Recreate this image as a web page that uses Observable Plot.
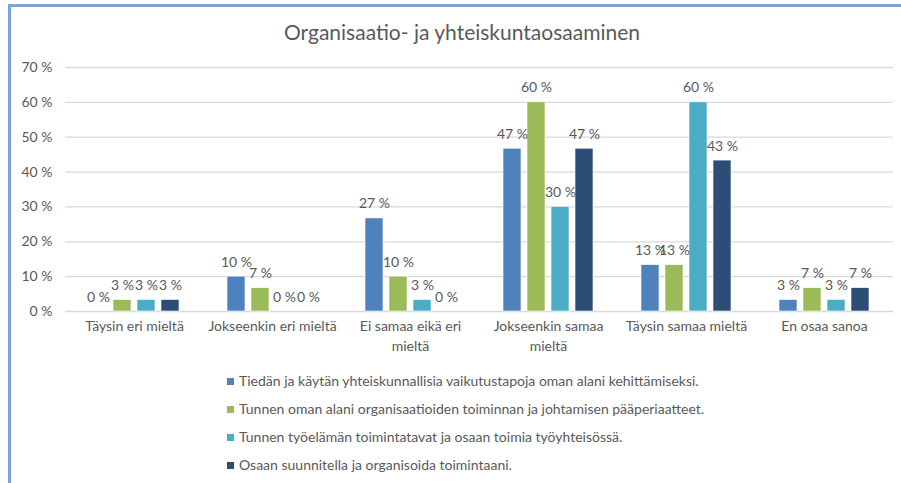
<!DOCTYPE html>
<html>
<head>
<meta charset="utf-8">
<script src="https://cdn.jsdelivr.net/npm/d3@7"></script>
<script src="https://cdn.jsdelivr.net/npm/@observablehq/plot@0.6"></script>
<style>
  html, body { margin: 0; padding: 0; background: #fff; }
  #wrap { position: relative; width: 901px; height: 483px; overflow: hidden; font-family: Lato, "Open Sans", sans-serif; color: #595959; }
  #frame { position: absolute; left: 8px; top: 4px; right: -10px; bottom: -10px; border-left: 3px solid #7ea4d6; border-top: 3px solid #7ea4d6; box-sizing: border-box; }
  #title { position: absolute; left: 0; width: 924px; top: 19px; text-align: center; font-size: 21px; color: #595959; }
  #chart { position: absolute; left: 0; top: 50px; }
  #legend { position: absolute; left: 227px; top: 372px; font-size: 14px; }
  .item { height: 27.9px; display: flex; align-items: flex-start; white-space: nowrap; }
  .sw { width: 7px; height: 7px; margin-right: 5px; margin-top: 6px; flex: none; }
</style>
</head>
<body>
<div id="wrap">
  <div id="frame"></div>
  <div id="title"></div>
  <div id="chart"></div>
  <div id="legend"></div>
</div>
<script>
const title = "Organisaatio- ja yhteiskuntaosaaminen";
const categories = ["Täysin eri mieltä", "Jokseenkin eri mieltä", "Ei samaa eikä eri mieltä", "Jokseenkin samaa mieltä", "Täysin samaa mieltä", "En osaa sanoa"];
const categoryLabels = ["Täysin eri mieltä", "Jokseenkin eri mieltä", "Ei samaa eikä eri\nmieltä", "Jokseenkin samaa\nmieltä", "Täysin samaa mieltä", "En osaa sanoa"];
const series = [
  "Tiedän ja käytän yhteiskunnallisia vaikutustapoja oman alani kehittämiseksi.",
  "Tunnen oman alani organisaatioiden toiminnan ja johtamisen pääperiaatteet.",
  "Tunnen työelämän toimintatavat ja osaan toimia työyhteisössä.",
  "Osaan suunnitella ja organisoida toimintaani."
];
const colors = ["#4f81bd", "#9bbb59", "#4bacc6", "#2c4d75"];
const s1 = [0, 10, 26.7, 46.7, 13.3, 3.3];
const s2 = [3.3, 6.7, 10, 60, 13.3, 6.7];
const s3 = [3.3, 0, 3.3, 30, 60, 3.3];
const s4 = [3.3, 0, 0, 46.7, 43.3, 6.7];
const yTicks = [0, 10, 20, 30, 40, 50, 60, 70];

const seriesValues = [s1, s2, s3, s4];
const data = [];
categories.forEach((c, i) => {
  series.forEach((s, j) => data.push({cat: c, series: s, value: seriesValues[j][i]}));
});
const labelOf = Object.fromEntries(categories.map((c, i) => [c, categoryLabels[i]]));

document.getElementById("title").textContent = title;

const chart = Plot.plot({
  width: 901,
  height: 318,
  marginTop: 17,
  marginBottom: 57,
  marginLeft: 63,
  marginRight: 6,
  style: {fontFamily: "Lato, 'Open Sans', sans-serif", fontSize: "14px", color: "#595959", background: "transparent", overflow: "visible"},
  fx: {domain: categories, padding: 0},
  x: {domain: series, paddingInner: 0.24, paddingOuter: 0.894, axis: null},
  y: {domain: [0, 70]},
  color: {domain: series, range: colors},
  marks: [
    Plot.ruleY(yTicks, {stroke: "#d9d9d9", strokeWidth: 1.3}),
    Plot.axisY(yTicks, {tickSize: 0, tickPadding: 13, tickFormat: d => d + " %", label: null, fill: "#595959"}),
    Plot.axisFx({anchor: "bottom", tickSize: 0, tickPadding: 5, label: null, tickFormat: d => labelOf[d], fill: "#595959", lineHeight: 1.45}),
    Plot.barY(data, {fx: "cat", x: "series", y: "value", fill: "series", stroke: "#ffffff", strokeWidth: 0.6}),
    Plot.text(data, {fx: "cat", x: "series", y: "value", text: d => Math.round(d.value) + " %", dy: -10, lineAnchor: "bottom", fill: "#595959"})
  ]
});
document.getElementById("chart").appendChild(chart);

const legend = document.getElementById("legend");
series.forEach((s, j) => {
  const item = document.createElement("div");
  item.className = "item";
  const sw = document.createElement("span");
  sw.className = "sw";
  sw.style.background = colors[j];
  const t = document.createElement("span");
  t.textContent = s;
  item.appendChild(sw);
  item.appendChild(t);
  legend.appendChild(item);
});
</script>
</body>
</html>
